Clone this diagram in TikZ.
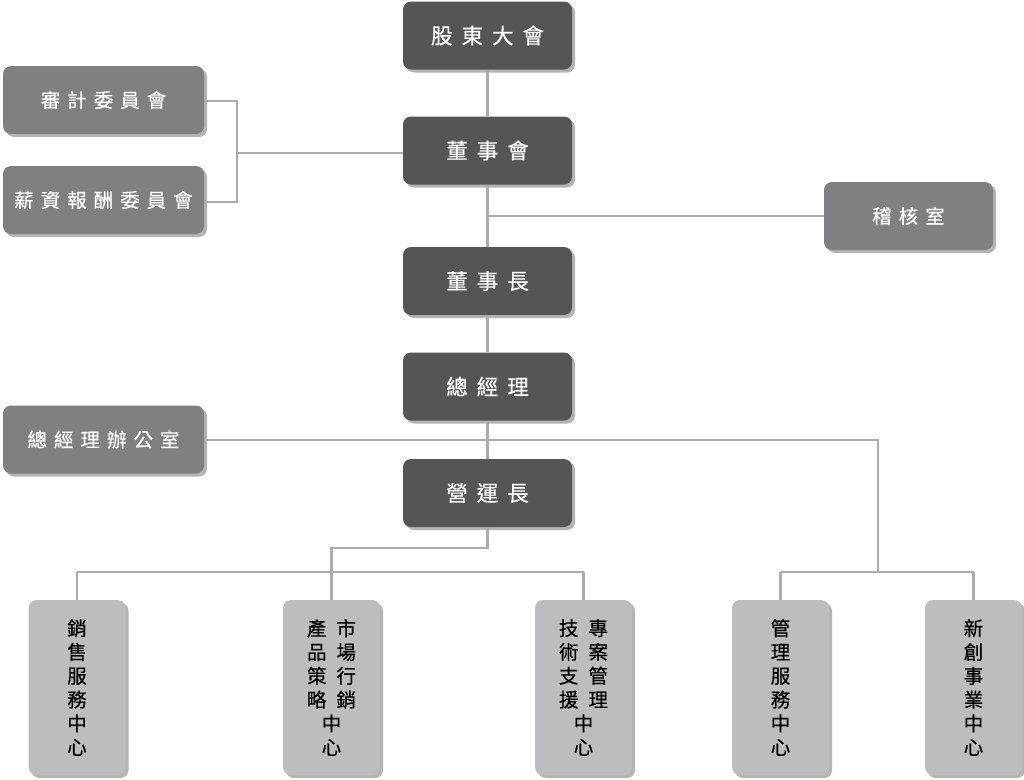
\documentclass[tikz,border=0pt]{standalone}
\usepackage{fontspec}
\setmainfont{Noto Sans CJK TC}[BoldFont={Noto Sans CJK TC}, BoldFeatures={FakeBold=0.5}]
\usetikzlibrary{shadows}
\definecolor{darkbox}{HTML}{555557}
\definecolor{midbox}{HTML}{808083}
\definecolor{lightbox}{HTML}{BDBDBF}
\definecolor{shadowc}{HTML}{B4B4B6}
\definecolor{linec}{HTML}{ABABAD}
\newcommand\cgA{\hspace{9pt}}
\newcommand\cgB{\hspace{7pt}}
\newcommand\cgC{\hspace{10pt}}
\begin{document}
\begin{tikzpicture}[x=1pt,y=-1pt,
  boxbase/.style={rounded corners=8pt, inner sep=0pt, anchor=center,
    drop shadow={shadow xshift=3pt, shadow yshift=-3pt, fill=shadowc, opacity=1}},
  darknode/.style={boxbase, fill=darkbox, text=white, minimum width=169pt, minimum height=68pt,
    font=\fontsize{21.5}{25}\selectfont\bfseries},
  midnode/.style={boxbase, fill=midbox, text=white, minimum width=201pt, minimum height=68pt,
    font=\fontsize{19.5}{23}\selectfont\bfseries},
  vertnode/.style={boxbase, fill=lightbox, text=black, minimum width=97pt, minimum height=175pt,
    align=center, font=\fontsize{19.5}{23.8}\selectfont\bfseries},
  conn/.style={draw=linec, line width=2.8pt}]
\useasboundingbox (0,0) rectangle (1024,779);
\fill[white] (0,0) rectangle (1024,779);

% junction coordinates
\coordinate (bk) at (237,153);
\coordinate (ja) at (487.5,216);
\coordinate (jb) at (487.5,440);
\coordinate (jc) at (878,440);
\coordinate (jd) at (878,572);
\coordinate (je) at (487.5,548);
\coordinate (jf) at (331.5,548);
\coordinate (jg) at (331.5,572);
\coordinate (lL) at (77,572);
\coordinate (lR) at (583.5,572);
\coordinate (rL) at (780.5,572);
\coordinate (rR) at (973.5,572);

% nodes
\node[darknode] (gm) at (487.5,35.5) {股\cgA 東\cgA 大\cgA 會};
\node[darknode] (board) at (487.5,150.5) {董\cgA 事\cgA 會};
\node[darknode] (chair) at (487.5,281) {董\cgA 事\cgA 長};
\node[darknode] (ceo) at (487.5,386.5) {總\cgA 經\cgA 理};
\node[darknode] (coo) at (487.5,493) {營\cgA 運\cgA 長};
\node[midnode] (audit) at (103.5,100) {審\cgB 計\cgB 委\cgB 員\cgB 會};
\node[midnode] (comp) at (103.5,200) {薪\cgB 資\cgB 報\cgB 酬\cgB 委\cgB 員\cgB 會};
\node[midnode] (ceooff) at (103.5,439.5) {總\cgB 經\cgB 理\cgB 辦\cgB 公\cgB 室};
\node[midnode, minimum width=169pt] (aud) at (908.5,216) {稽\cgB 核\cgB 室};
\node[vertnode] (sales) at (77,687.5) {銷\\售\\服\\務\\中\\心};
\node[vertnode] (mkt) at (331.5,687.5) {產\cgC 市\\品\cgC 場\\策\cgC 行\\略\cgC 銷\\中\\心};
\node[vertnode] (tech) at (583.5,687.5) {技\cgC 專\\術\cgC 案\\支\cgC 管\\援\cgC 理\\中\\心};
\node[vertnode] (mgmt) at (780.5,687.5) {管\\理\\服\\務\\中\\心};
\node[vertnode] (newb) at (973.5,687.5) {新\\創\\事\\業\\中\\心};

% connector lines
\draw[conn] (gm.south) -- (board.north);
\draw[conn] (board.south) -- (chair.north);
\draw[conn] (chair.south) -- (ceo.north);
\draw[conn] (ceo.south) -- (coo.north);
\draw[conn] (audit.east |- 0,101) -| (bk) |- (comp.east |- 0,202);
\draw[conn] (bk) -- (board.west |- bk);
\draw[conn] (ja) -- (aud.west |- ja);
\draw[conn] (ceooff.east |- jb) -- (jc) -- (jd);
\draw[conn] (coo.south) -- (je) -- (jf) -- (jg);
\draw[conn] (lL) -- (lR);
\draw[conn] (rL) -- (rR);
\draw[conn] (lL) -- (sales.north);
\draw[conn] (jg) -- (mkt.north);
\draw[conn] (lR) -- (tech.north);
\draw[conn] (rL) -- (mgmt.north);
\draw[conn] (rR) -- (newb.north);
\end{tikzpicture}
\end{document}
